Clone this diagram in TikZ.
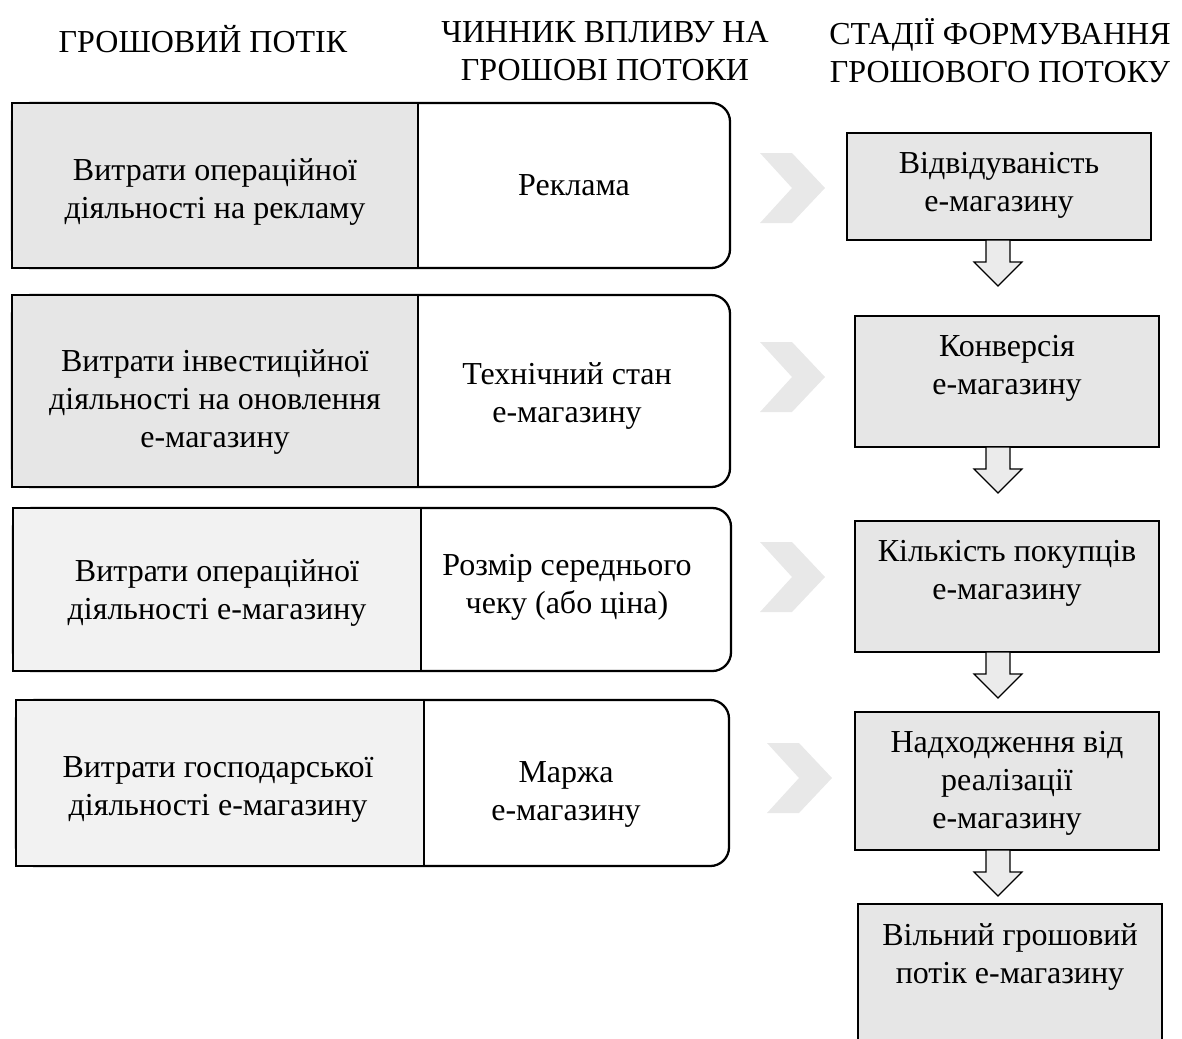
\documentclass[tikz,border=0pt]{standalone}
\usepackage{fontspec}
\setmainfont{Liberation Serif}
\usetikzlibrary{calc}
\definecolor{boxgray}{HTML}{E6E6E6}
\definecolor{palegray}{HTML}{F2F2F2}
\definecolor{chevgray}{HTML}{E8E8E8}
\definecolor{arrowgray}{HTML}{EBEBEB}
\begin{document}
\begin{tikzpicture}[x=0.75pt,y=-0.75pt,
  every node/.style={font=\fontsize{24}{28.5}\selectfont, inner sep=0pt, outer sep=0pt},
  roundbox/.style={draw, line width=1.7pt, rounded corners=14pt, fill=white},
  costbox/.style={draw, line width=1.4pt, fill=boxgray},
  palebox/.style={draw, line width=1.4pt, fill=palegray},
  txt/.style={align=center},
  stagebox/.style={draw, line width=1.3pt, fill=boxgray, anchor=north},
  stagetxt/.style={align=center, anchor=north},
  chev/.style={fill=chevgray, draw=none},
  blk/.style={draw, line width=0.9pt, fill=arrowgray, line join=miter}
]
\useasboundingbox (0,0) rectangle (1182,1039);
\clip (0,0) rectangle (1182,1039);

% headers
\node (h1) at (203,39) {ГРОШОВИЙ ПОТІК};
\node[txt] (h2) at (605,51) {ЧИННИК ВПЛИВУ НА\\ГРОШОВІ ПОТОКИ};
\node[txt] (h3) at (1000,51) {СТАДІЇ ФОРМУВАННЯ\\ГРОШОВОГО ПОТОКУ};

% row 1
\node[roundbox, minimum width=718*0.75pt, minimum height=165*0.75pt] (r1) at (371,185.5) {};
\node[costbox, minimum width=406*0.75pt, minimum height=165*0.75pt] (c1) at (215,185.5) {};
\node[txt] (ct1) at (215,192) {Витрати операційної\\діяльності на рекламу};
\node[txt] (f1) at (574,185.5) {Реклама};

% row 2
\node[roundbox, minimum width=718*0.75pt, minimum height=192*0.75pt] (r2) at (371,391) {};
\node[costbox, minimum width=406*0.75pt, minimum height=192*0.75pt] (c2) at (215,391) {};
\node[txt] (ct2) at (215,402) {Витрати інвестиційної\\діяльності на оновлення\\е-магазину};
\node[txt] (f2) at (567,396) {Технічний стан\\е-магазину};

% row 3
\node[roundbox, minimum width=718*0.75pt, minimum height=163*0.75pt] (r3) at (372,589.5) {};
\node[palebox, minimum width=408*0.75pt, minimum height=163*0.75pt] (c3) at (217,589.5) {};
\node[txt] (ct3) at (217,593) {Витрати операційної\\діяльності е-магазину};
\node[txt] (f3) at (567,587) {Розмір середнього\\чеку (або ціна)};

% row 4
\node[roundbox, minimum width=713*0.75pt, minimum height=166*0.75pt] (r4) at (372.5,783) {};
\node[palebox, minimum width=408*0.75pt, minimum height=166*0.75pt] (c4) at (220,783) {};
\node[txt] (ct4) at (218,789) {Витрати господарської\\діяльності е-магазину};
\node[txt] (f4) at (566,794) {Маржа\\е-магазину};

% chevrons
\foreach \cx/\cy in {760/188, 760/377, 760/577, 767/778}{
  \fill[chev] (\cx,\cy-35) -- ++(32,0) -- ++(33,35) -- ++(-33,35) -- ++(-32,0) -- ++(32,-35) -- cycle;
}

% stage boxes
\node[stagebox, minimum width=304*0.75pt, minimum height=107*0.75pt] (s1) at (999,133) {};
\node[stagetxt] (t1) at ($(s1.north)+(0,19)$) {Відвідуваність\\е-магазину};
\node[stagebox, minimum width=304*0.75pt, minimum height=131*0.75pt] (s2) at (1007,316) {};
\node[stagetxt] (t2) at ($(s2.north)+(0,19.5)$) {Конверсія\\е-магазину};
\node[stagebox, minimum width=304*0.75pt, minimum height=131*0.75pt] (s3) at (1007,521) {};
\node[stagetxt] (t3) at ($(s3.north)+(0,19.5)$) {Кількість покупців\\е-магазину};
\node[stagebox, minimum width=304*0.75pt, minimum height=138*0.75pt] (s4) at (1007,712) {};
\node[stagetxt] (t4) at ($(s4.north)+(0,19.5)$) {Надходження від\\реалізації\\е-магазину};
\node[stagebox, minimum width=304*0.75pt, minimum height=160*0.75pt] (s5) at (1010,904) {};
\node[stagetxt] (t5) at ($(s5.north)+(0,19.5)$) {Вільний грошовий\\потік е-магазину};

% down block arrows
\coordinate (ax) at (998,0);
\foreach \b in {s1,s2,s3,s4}{
  \draw[blk] ($(\b.south -| ax)+(-12,0)$) -- ++(0,22) -- ++(-12,0) -- ++(24,24) -- ++(24,-24) -- ++(-12,0) -- ++(0,-22) -- cycle;
}
\end{tikzpicture}
\end{document}
